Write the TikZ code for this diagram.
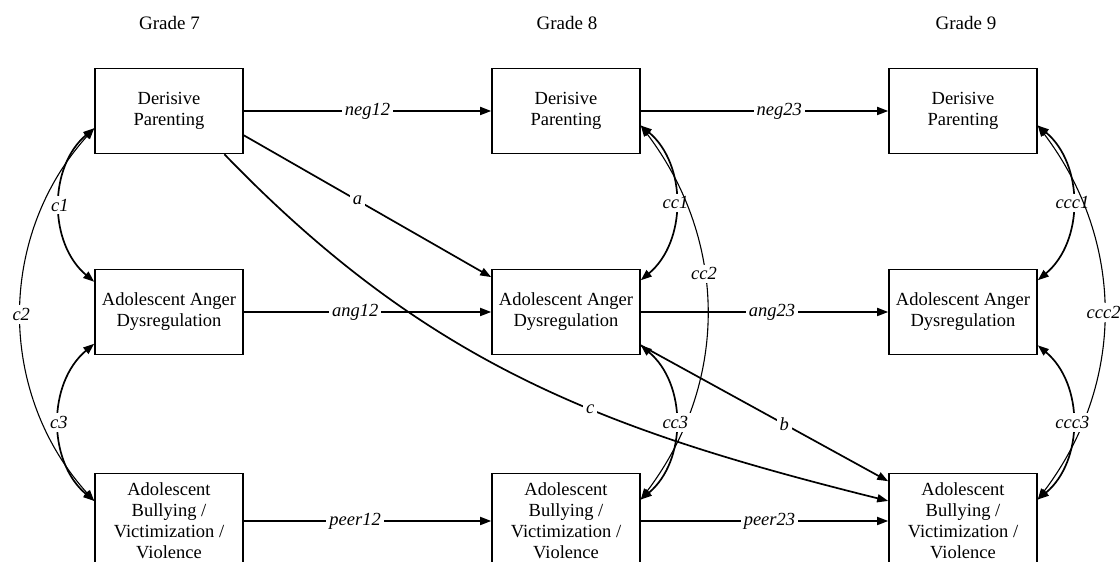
\documentclass[tikz,border=0pt]{standalone}
\usepackage{fontspec}
\setmainfont{Liberation Serif}
\usetikzlibrary{arrows.meta}

\begin{document}
\begin{tikzpicture}[x=10pt, y=10pt,
    box/.style={draw, line width=1.6pt, minimum width=148pt, minimum height=85pt,
      align=center, inner sep=2pt, font=\fontsize{18.5}{21}\selectfont},
    tallbox/.style={box, minimum height=95pt},
    grade/.style={font=\fontsize{19}{22}\selectfont},
    effect/.style={line width=1.7pt, -{Triangle[length=11pt,width=8pt]}},
    cov/.style={line width=1.7pt, {Triangle[length=11pt,width=8pt]}-{Triangle[length=11pt,width=8pt]}},
    widecov/.style={cov, line width=1.1pt},
    lab/.style={fill=white, inner sep=3pt, font=\fontsize{18.5}{21}\selectfont\itshape}]
    \useasboundingbox (0,0) rectangle (112,56.2);
    \node[grade] (G7) at (16.95,53.9) {Grade 7}; \node[grade] (G8) at (56.7,53.9)
    {Grade 8}; \node[grade] (G9) at (96.6,53.9) {Grade 9};
    \node[box] (P7) at (16.9,45.1) {Derisive\\Parenting}; \node[box] (A7) at (16.9,25)
    {Adolescent Anger\\Dysregulation}; \node[tallbox] (V7) at (16.9,4.1)
    {Adolescent\\Bullying /\\Victimization /\\Violence};
    \node[box] (P8) at (56.6,45.1) {Derisive\\Parenting}; \node[box] (A8) at (56.6,25)
    {Adolescent Anger\\Dysregulation}; \node[tallbox] (V8) at (56.6,4.1)
    {Adolescent\\Bullying /\\Victimization /\\Violence};
    \node[box] (P9) at (96.3,45.1) {Derisive\\Parenting}; \node[box] (A9) at (96.3,25)
    {Adolescent Anger\\Dysregulation}; \node[tallbox] (V9) at (96.3,4.1)
    {Adolescent\\Bullying /\\Victimization /\\Violence};
    \draw[effect] (P7) -- (P8) node[lab, pos=0.5] {neg12};
    \draw[effect] (P8) -- (P9) node[lab, pos=0.56] {neg23};
    \draw[effect] (A7) -- (A8) node[lab, pos=0.45] {ang12};
    \draw[effect] (A8) -- (A9) node[lab, pos=0.53] {ang23};
    \draw[effect] (V7) -- (V8) node[lab, pos=0.45] {peer12};
    \draw[effect] (V8) -- (V9) node[lab, pos=0.52] {peer23};
    \draw[effect] (P7.-18) -- (A8.155) node[lab, pos=0.46] {a};
    \draw[effect] (A8.-24) -- (V9.152) node[lab, pos=0.58] {b};
    \draw[effect] (P7.-38) to[out=-46, in=166] node[lab, pos=0.6] {c} (V9.165);
    \draw[cov] (P7.193) to[out=220, in=140] node[lab] {c1} (A7.158);
    \draw[widecov] (P7.193) to[out=228, in=132] node[lab] {c2} (V7.165);
    \draw[cov] (A7.203) to[out=220, in=140] node[lab] {c3} (V7.165);
    \draw[cov] (P8.-11) to[out=-40, in=40] node[lab] {cc1} (A8.23);
    \draw[widecov] (P8.-11) to[out=-53, in=53] node[lab, pos=0.4] {cc2} (V8.16);
    \draw[cov] (A8.-24) to[out=-40, in=40] node[lab] {cc3} (V8.16);
    \draw[cov] (P9.-11) to[out=-40, in=40] node[lab] {ccc1} (A9.23);
    \draw[widecov] (P9.-11) to[out=-53, in=53] node[lab] {ccc2} (V9.16);
    \draw[cov] (A9.-24) to[out=-40, in=40] node[lab] {ccc3} (V9.16);
  \end{tikzpicture}
\end{document}
